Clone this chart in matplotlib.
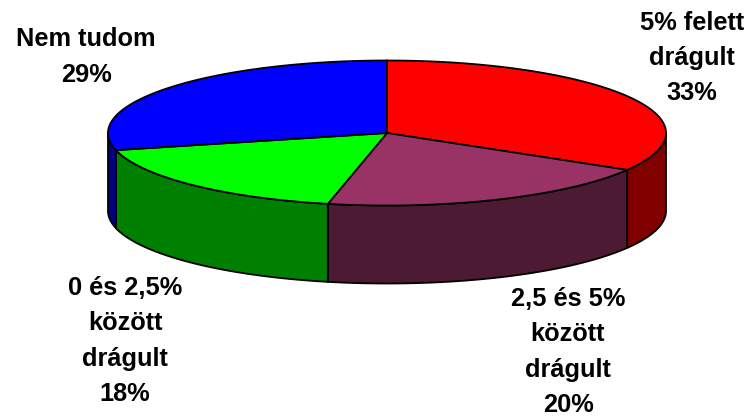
import numpy as np
import matplotlib
matplotlib.use('Agg')
import matplotlib.pyplot as plt
from matplotlib.patches import Polygon

labels = ['5% felett\ndrágult\n33%', '2,5 és 5%\nközött\ndrágult\n20%', '0 és 2,5%\nközött\ndrágult\n18%', 'Nem tudom\n29%']
# slice sizes as measured on the picture, the labels are rounded
values = [33.5, 19.9, 17.8, 28.8]
top_colors = ['#FF0000', '#993366', '#00FF00', '#0000FF']
side_colors = ['#800000', '#4D1A33', '#008000', '#000080']
label_pos = [(692, 58), (568, 352), (125, 341), (86, 57)]

# pie geometry in pixels
cx, cy = 387, 133
rx, ry = 279, 72.5
depth = 78


def rim(a0, a1):
    # angles in degrees, clockwise from 12 o'clock
    t = np.radians(np.linspace(a0, a1, 200))
    return cx + rx * np.sin(t), cy - ry * np.cos(t)


fig = plt.figure(figsize=(7.49, 4.18), dpi=100)
ax = fig.add_axes([0, 0, 1, 1])
ax.set_xlim(0, 749)
ax.set_ylim(418, 0)
ax.axis('off')

edges = np.cumsum([0] + values) / sum(values) * 360

# side walls first
for i in range(len(values)):
    a0 = max(edges[i], 90)
    a1 = min(edges[i + 1], 270)
    if a1 <= a0:
        continue
    x, y = rim(a0, a1)
    pts = np.r_[np.c_[x, y], np.c_[x[::-1], y[::-1] + depth]]
    ax.add_patch(Polygon(pts, closed=True, fc=side_colors[i], ec='black', lw=1.3))

# top slices
for i in range(len(values)):
    x, y = rim(edges[i], edges[i + 1])
    pts = np.r_[[[cx, cy]], np.c_[x, y]]
    ax.add_patch(Polygon(pts, closed=True, fc=top_colors[i], ec='black', lw=1.3))

for lab, (lx, ly) in zip(labels, label_pos):
    ax.text(lx, ly, lab, ha='center', va='center', family='Liberation Sans',
            weight='bold', fontsize=18.3, linespacing=1.6, color='black')

fig.savefig('out.png', dpi=100)
